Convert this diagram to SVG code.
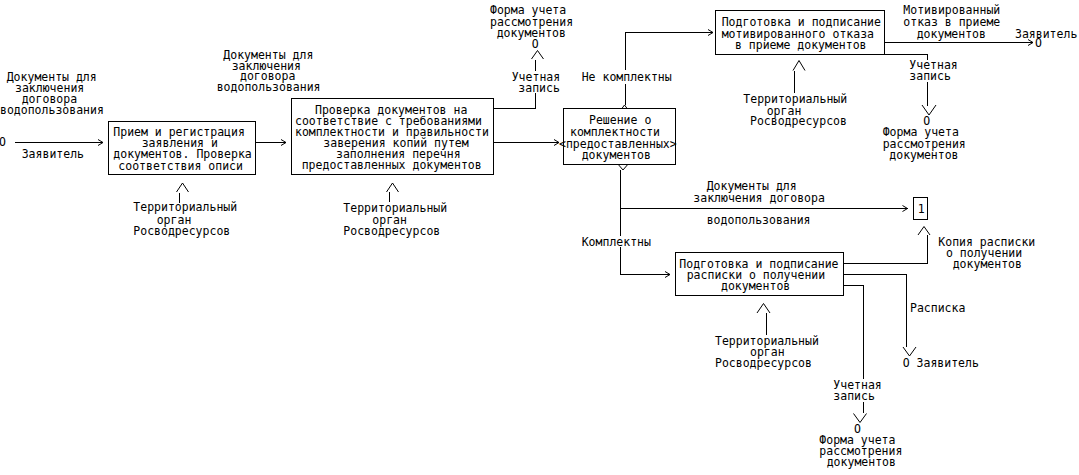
<svg xmlns="http://www.w3.org/2000/svg" width="1079" height="475" viewBox="0 0 1079 475">
<style>
text{font-family:"DejaVu Sans Mono","Liberation Mono",monospace;font-size:11.5px;fill:#000}
.box{fill:#fff;stroke:#000;stroke-width:1;shape-rendering:crispEdges}
.ln{fill:none;stroke:#000;stroke-width:1;shape-rendering:crispEdges}
.ah{fill:none;stroke:#000;stroke-width:1}
</style>
<rect width="1079" height="475" fill="#fff"/>
<g id="connectors">
<path class="ln" d="M15,142.5H103"/>
<path class="ah" d="M98,139.5L103,142.5L98,145.5"/>
<path class="ln" d="M255.5,142.5H286"/>
<path class="ah" d="M281,139.5L286,142.5L281,145.5"/>
<path class="ah" d="M176.5,192L182.5,183L188.5,192"/>
<path class="ln" d="M179.5,193V202.5"/>
<path class="ah" d="M386.5,192L392.5,183L398.5,192"/>
<path class="ln" d="M389.5,192V202"/>
<path class="ln" d="M493.5,108.5H535.5V92.5M535.5,71V60"/>
<path class="ah" d="M531.5,59L537.5,50.5L543.5,59"/>
<path class="ln" d="M493.5,142.5H559"/>
<path class="ah" d="M554,139.5L559,142.5L554,145.5"/>
<path class="ah" d="M618.5,113L624.5,105L630.5,113"/>
<path class="ln" d="M625.5,105V84M625.5,70V32.5H713"/>
<path class="ah" d="M708,29.5L713,32.5L708,35.5"/>
<path class="ln" d="M884.5,42.5H1033"/>
<path class="ah" d="M1028,39.5L1033,42.5L1028,45.5"/>
<path class="ln" d="M884.5,54.5H927.5V60M927.5,81.5V106"/>
<path class="ah" d="M922,105L929,115L936,105"/>
<path class="ah" d="M793,70.5L799,60.5L805,70.5"/>
<path class="ln" d="M794.5,71V93"/>
<path class="ah" d="M617,163L623,170L629,163"/>
<path class="ln" d="M620.5,170V236M620.5,247V274.5H670"/>
<path class="ah" d="M665,271.5L670,274.5L665,277.5"/>
<path class="ln" d="M620.5,208.5H907.5"/>
<path class="ah" d="M902.5,205.5L907.5,208.5L902.5,211.5"/>
<path class="ln" d="M843.5,263.5H927.5V235"/>
<path class="ah" d="M918,235L924,226.5L930,235"/>
<path class="ln" d="M843.5,274.5H906.5V347"/>
<path class="ah" d="M903,347L909.5,356L916,347"/>
<path class="ln" d="M843.5,285.5H863.5V379M863.5,401.5V413"/>
<path class="ah" d="M853.5,413.5L860,422.5L866.5,413.5"/>
<path class="ah" d="M757,313L763.5,303.5L770,313"/>
<path class="ln" d="M766.5,313V335"/>
<text x="-1" y="146">O</text>
<text x="6.7" y="81">Документы для</text>
<text x="15" y="92">заключения</text>
<text x="21.7" y="103">договора</text>
<text x="0" y="114">водопользования</text>
<text x="21.7" y="157.5">Заявитель</text>
<text x="133.3" y="211">Территориальный</text>
<text x="156.7" y="223.5">орган</text>
<text x="133.3" y="235">Росводресурсов</text>
<text x="223.3" y="59">Документы для</text>
<text x="231.7" y="69.5">заключения</text>
<text x="240" y="80">договора</text>
<text x="216.7" y="91">водопользования</text>
<text x="343.3" y="211.5">Территориальный</text>
<text x="372.3" y="224">орган</text>
<text x="343.3" y="235">Росводресурсов</text>
<text x="490" y="14">Форма учета</text>
<text x="490" y="26">рассмотрения</text>
<text x="496.7" y="37">документов</text>
<text x="531.7" y="47.5">O</text>
<text x="511.7" y="81">Учетная</text>
<text x="518.3" y="92">запись</text>
<text x="581.7" y="81">Не комплектны</text>
<text x="903.3" y="14">Мотивированный</text>
<text x="903.3" y="26">отказ в приеме</text>
<text x="916.7" y="37.5">документов</text>
<text x="1015" y="37.5">Заявитель</text>
<text x="1035" y="47">O</text>
<text x="909.3" y="69">Учетная</text>
<text x="909.3" y="80">запись</text>
<text x="923.3" y="124.5">O</text>
<text x="882.7" y="136">Форма учета</text>
<text x="882.7" y="147.5">рассмотрения</text>
<text x="889.3" y="158.5">документов</text>
<text x="743.3" y="103">Территориальный</text>
<text x="766.7" y="114.5">орган</text>
<text x="750" y="125">Росводресурсов</text>
<text x="706.7" y="190">Документы для</text>
<text x="693.3" y="201.5">заключения договора</text>
<text x="706.7" y="224">водопользования</text>
<text x="581.7" y="246">Комплектны</text>
<text x="938.3" y="246">Копия расписки</text>
<text x="946" y="257">о получении</text>
<text x="952.7" y="267.5">документов</text>
<text x="910" y="311.5">Расписка</text>
<text x="902.7" y="367">O Заявитель</text>
<text x="833.3" y="388.5">Учетная</text>
<text x="833.3" y="400">запись</text>
<text x="854" y="433">O</text>
<text x="819.3" y="443.5">Форма учета</text>
<text x="819.3" y="455">рассмотрения</text>
<text x="826.7" y="466">документов</text>
<text x="715" y="345">Территориальный</text>
<text x="750" y="356">орган</text>
<text x="715" y="366.5">Росводресурсов</text>
</g>
<g id="box1">
<rect class="box" x="108.5" y="121.5" width="147" height="53"/>
<text x="113.3" y="136">Прием и регистрация</text>
<text x="141.7" y="147">заявления и</text>
<text x="113.3" y="158">документов. Проверка</text>
<text x="118.3" y="169.5">соответствия описи</text>
</g>
<g id="box2">
<rect class="box" x="291.5" y="98.5" width="202" height="76"/>
<text x="315" y="114">Проверка документов на</text>
<text x="295" y="125">соответствие с требованиями</text>
<text x="295" y="136">комплектности и правильности</text>
<text x="323.3" y="147">заверения копий путем</text>
<text x="336" y="157.5">заполнения перечня</text>
<text x="301.7" y="168.5">предоставленных документов</text>
</g>
<g id="box3">
<rect class="box" x="563.5" y="108.5" width="112" height="56"/>
<text x="589" y="124">Решение о</text>
<text x="570" y="136">комплектности</text>
<text x="559" y="147.5">&lt;предоставленных&gt;</text>
<text x="581.7" y="158.5">документов</text>
</g>
<g id="box4">
<rect class="box" x="715.5" y="10.5" width="169" height="44"/>
<text x="721.7" y="26">Подготовка и подписание</text>
<text x="721.7" y="37.5">мотивированного отказа</text>
<text x="735" y="48.5">в приеме документов</text>
</g>
<g id="box5">
<rect class="box" x="675.5" y="252.5" width="168" height="43"/>
<text x="679.3" y="267.5">Подготовка и подписание</text>
<text x="686.7" y="278.5">расписки о получении</text>
<text x="721" y="290">документов</text>
</g>
<g id="ref1">
<rect class="box" x="913.5" y="197.5" width="14" height="22"/>
<text x="917.7" y="213">1</text>
</g>
</svg>
